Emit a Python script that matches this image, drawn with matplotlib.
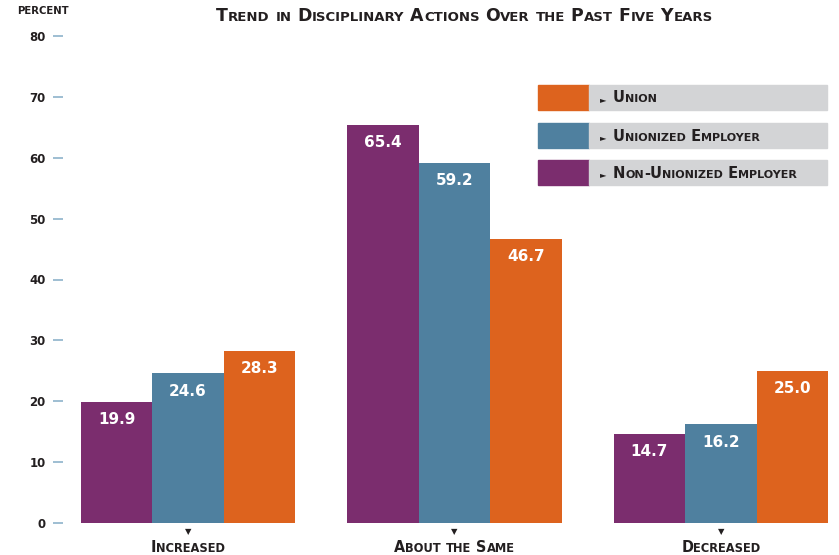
import matplotlib
matplotlib.use("Agg")
import matplotlib.pyplot as plt
import numpy as np

# Data
categories = ["Increased", "About the Same", "Decreased"]
series_names = ["Non-Unionized Employer", "Unionized Employer", "Union"]
non_union = [19.9, 65.4, 14.7]
unionized = [24.6, 59.2, 16.2]
union = [28.3, 46.7, 25.0]
yticks = [0, 10, 20, 30, 40, 50, 60, 70, 80]

# Colours
purple = "#7B2D6E"
blue = "#4F809F"
orange = "#DD631E"
grey = "#D3D4D6"
dark = "#231F20"

W, H = 839, 555
fig = plt.figure(figsize=(W / 100, H / 100), dpi=100)
ax = fig.add_axes([63 / W, 1 - 523 / H, (835 - 63) / W, (523 - 36) / H])
renderer = fig.canvas.get_renderer()


def small_caps(x, y, text, size, ha="left", ratio=0.76, **kw):
    # draw text in fake small caps, x/y in figure pixels (y from top)
    runs = []
    for ch in text:
        s = size * ratio if ch.islower() else size
        if runs and runs[-1][1] == s:
            runs[-1][0] += ch.upper()
        else:
            runs.append([ch.upper(), s])
    artists = []
    widths = []
    for t, s in runs:
        a = fig.text(0, 0, t, fontsize=s, va="baseline", ha="left", **kw)
        artists.append(a)
        widths.append(a.get_window_extent(renderer).width)
    total = sum(widths)
    if ha == "center":
        x0 = x - total / 2
    elif ha == "right":
        x0 = x - total
    else:
        x0 = x
    for a, w in zip(artists, widths):
        a.set_position((x0 / W, 1 - y / H))
        x0 += w
    return artists


x = np.arange(len(categories))
w = 71.5 / 266.5
ax.bar(x - w, non_union, w, color=purple)
ax.bar(x, unionized, w, color=blue)
ax.bar(x + w, union, w, color=orange)

for off, vals in [(-w, non_union), (0, unionized), (w, union)]:
    for xi, v in zip(x, vals):
        ax.annotate(f"{v:.1f}", (xi + off, v), xytext=(0, -7.5), textcoords="offset points",
                    ha="center", va="top", color="white", fontsize=11, fontweight="bold",
                    family="DejaVu Sans")

ax.set_xlim((63 - 188) / 266.5, (835 - 188) / 266.5)
ax.set_ylim(0, 80)
ax.set_yticks(yticks)
ax.set_yticklabels([str(t) for t in yticks], fontsize=8.5, fontweight="bold", color=dark)
ax.tick_params(axis="y", direction="out", length=7.5, width=1.2, color="#8DB3CB", pad=5)
ax.set_xticks([])
for s in ax.spines.values():
    s.set_visible(False)

# little down arrows and category labels
for xi, c in zip(x, categories):
    ax.annotate("▼", (xi, 0), xytext=(0, -3), textcoords="offset points",
                ha="center", va="top", fontsize=6, color=dark)
    px = ax.transData.transform((xi, 0))[0]
    small_caps(px, 552, c, 11.5, ha="center", ratio=0.8, fontweight="bold", color=dark,
               family="DejaVu Sans", fontstretch="condensed")

# title and y label
small_caps(W / 2 + 45, 21, "Trend in Disciplinary Actions Over the Past Five Years", 12.5,
           ha="center", fontweight="bold", color=dark, family="DejaVu Sans")
fig.text(17 / W, 1 - 14 / H, "PERCENT", fontsize=7.3, fontweight="bold", color=dark,
         va="baseline", family="DejaVu Sans")

# legend boxes
legend = [("Union", orange, 85), ("Unionized Employer", blue, 123),
          ("Non-Unionized Employer", purple, 160)]
for name, col, top in legend:
    fig.patches.append(plt.Rectangle((538 / W, 1 - (top + 25) / H), 51 / W, 25 / H,
                                     transform=fig.transFigure, color=col, zorder=1))
    fig.patches.append(plt.Rectangle((589 / W, 1 - (top + 25) / H), 238 / W, 25 / H,
                                     transform=fig.transFigure, color=grey, zorder=1))
    fig.text(600 / W, 1 - (top + 17) / H, "►", fontsize=6, color=dark, va="baseline")
    small_caps(613, top + 17.5, name, 10.5, fontweight="bold", color=dark, family="DejaVu Sans")

fig.savefig("out.png", dpi=100)
